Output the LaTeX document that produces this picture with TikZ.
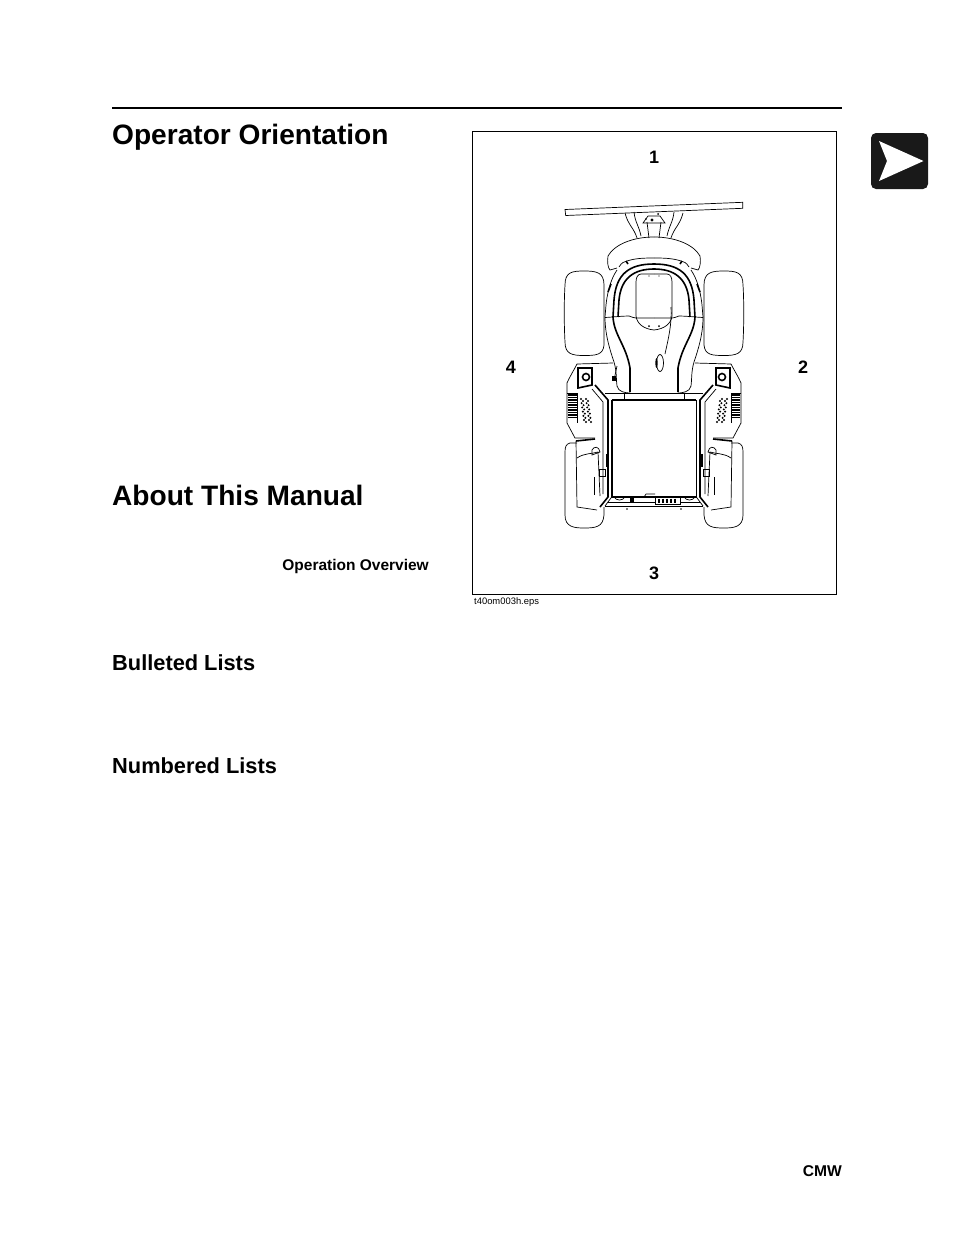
\documentclass[tikz,border=0pt]{standalone}
\usepackage{fontspec}
\setmainfont{Liberation Sans}
\tikzset{
    heading/.style={anchor=base west, inner sep=0pt, font=\fontsize{28.1}{33}\selectfont\bfseries},
    subheading/.style={anchor=base west, inner sep=0pt, font=\fontsize{21.8}{25}\selectfont\bfseries},
    sidelabel/.style={inner sep=0pt, font=\fontsize{18}{22}\selectfont\bfseries},
    thin part/.style={line width=0.7pt},
    thick part/.style={line width=1.6pt},
}
\begin{document}
\begin{tikzpicture}[x=1pt,y=-1pt]
    \useasboundingbox (0,0) rectangle (954,1235);
    \fill[white] (0,0) rectangle (954,1235);

    % page furniture
    \draw[line width=2pt] (112,108) -- (842,108);
    \draw[line width=0.9pt] (472,131) rectangle (836,594);
    \fill[black!90, rounded corners=5pt] (871,133) rectangle (928,189);
    \fill[white] (879,141) -- (923.5,161) -- (879,181) -- (887,161) -- cycle;

    \node[heading] (orientation) at (112,144) {Operator Orientation};
    \node[heading] (manual) at (112,505) {About This Manual};
    \node[anchor=base east, inner sep=0pt, font=\fontsize{15.5}{20}\selectfont\bfseries] (overview) at (429,570) {Operation Overview};
    \node[subheading] (bulleted) at (112,670) {Bulleted Lists};
    \node[subheading] (numbered) at (112,773) {Numbered Lists};
    \node[anchor=base east, inner sep=0pt, font=\fontsize{15.6}{18}\selectfont\bfseries] (cmw) at (842,1176) {CMW};
    \node[anchor=base west, inner sep=0pt, font=\fontsize{9.4}{12}\selectfont] (caption) at (474,604) {t40om003h.eps};

    \node[sidelabel] (front) at (654,157) {1};
    \node[sidelabel] (right) at (803,367) {2};
    \node[sidelabel] (rear) at (654,573) {3};
    \node[sidelabel] (left) at (511,367) {4};

    % blade
    \draw[thin part, fill=white] (565,209.5) -- (742.7,202.3) -- (742.7,208.3) -- (565.7,215.5) -- cycle;

    % one side of the machine, mirrored
    \foreach \side in {1,-1} {
    \begin{scope}[shift={(654,0)}, xscale=\side]
        % tyres
        \draw[thin part] (-70,271) .. controls (-82,271) and (-89,272) .. (-89,285) .. controls (-90,300) and (-90,325) .. (-89,342)
            .. controls (-89,354) and (-82,355.5) .. (-70,355.5) .. controls (-58,355.5) and (-51,355) .. (-50,345) -- (-50,285)
            .. controls (-50,272) and (-58,271) .. (-70,271) -- cycle;
        \draw[thin part] (-77,443) -- (-84,443) .. controls (-88,444) and (-89,447) .. (-89,452) -- (-89,515)
            .. controls (-89,527) and (-80,528) .. (-70,528) .. controls (-58,528) and (-51,527) .. (-50,515) -- (-50,507);
        % blade arm
        \draw[thin part] (-29,213) .. controls (-26,225) and (-20,228) .. (-17,238);
        \draw[thin part] (-20,212) .. controls (-19,222) and (-15,226) .. (-13,236);
        \draw[thin part] (-7,222) -- (-5,238);
        % cowl
        \draw[thin part] (0,237) .. controls (-22,237) and (-40,245) .. (-46,256)
            .. controls (-47,262) and (-46,268) .. (-44,270) -- (-37,268);
        \draw[thin part] (-35,267) .. controls (-32,262) and (-30,262) .. (-27,261) .. controls (-18,258) and (-8,258) .. (0,258);
        \draw[thick part] (-28,261) -- (-26,264);
        % hood arches
        \draw[thick part] (0,264) .. controls (-25,264) and (-38,274) .. (-40,300) -- (-41,317)
            .. controls (-40,335) and (-28,345) .. (-24,368) -- (-24,392);
        \draw[thick part] (0,269) .. controls (-20,269) and (-33,278) .. (-35,300) -- (-36,317);
        \draw[thin part] (-49,317) .. controls (-49,335) and (-44,350) .. (-40,362) .. controls (-37,372) and (-38,380) .. (-37,386) .. controls (-36,392) and (-28,393) .. (-24,393);
        \draw[thin part] (-49,317) -- (-48,305) .. controls (-47,295) and (-44,280) .. (-37,270);
        \draw[thick part] (-46,292) -- (-43,284);
        % hood panel
        \draw[thin part] (0,274) -- (-13,274) .. controls (-16,274) and (-18,277) .. (-18,282) -- (-18,316)
            .. controls (-17,324) and (-10,329) .. (0,330);
        \draw[thin part] (-49,317.5) .. controls (-40,317) and (-32,316) .. (-25,316);
        \draw[thin part] (-25,316) .. controls (-22,317) and (-20,318) .. (-18,318) -- (0,318);
        \fill (-5,326) circle (1);
        \fill (-5,276) circle (0.7);
        % side frame
        \draw[thin part] (-77,364) -- (-41,363);
        \draw[thin part] (-77,364) .. controls (-80,370) and (-85,378) .. (-87,383) -- (-87,423) -- (-79,438) -- (-59,438);
        \draw[thick part] (-59,385) -- (-46,400) -- (-46,497) -- (-54,507);
        \draw[thin part] (-62,389) -- (-51,402) -- (-51,494);
        % rear deck
        \draw[thick part] (-42.3,400) -- (0,400);
        \draw[thick part] (-42.3,400) -- (-42.3,497) -- (0,497);
        \draw[thin part] (-49,393) -- (0,393);
        \draw[thin part] (-49,506) -- (0,506);
        \draw[thin part] (-46,502) -- (0,502);
        \draw[thin part] (-30,393) -- (-30,399);
        \draw[thin part] (-42.3,497) -- (-49,506);
        % latch
        \draw[thick part] (-76,368) -- (-62,368) -- (-62,385) -- (-76,388) -- cycle;
        \draw[thick part] (-68,377) circle (3.5);
        % step grate and dots
        \foreach \bar in {395,397.5,...,417.5} {
            \draw[line width=1.4pt] (-86,\bar) -- (-77,\bar);
        }
        \draw[thin part] (-87,393) -- (-77,393) -- (-77,423);
        \foreach \row in {0,1,...,5} {
            \foreach \col in {0,1} {
                \fill (-73+\col*5+\row*0.6,399+\row*4.2) circle (1.1);
                \fill (-71+\col*5+\row*0.6,401+\row*4.2) circle (1.1);
            }
        }
        % rear fender
        \draw[thick part] (-78,441) -- (-59,439);
        \draw[thin part] (-78,441) -- (-77,507) -- (-57,510);
        \draw[thin part] (-77,458) .. controls (-70,453) and (-62,454) .. (-56,452) -- (-54,496);
        \draw[line width=2pt] (-47.5,454) -- (-47.5,467);
        \draw[thin part] (-62,450) .. controls (-60,446) and (-55,446) .. (-54,452) -- (-62,455) -- cycle;
        \draw[thin part] (-55,469) rectangle (-49,476);
        \draw[thin part] (-60,477) -- (-60,495);
        % hitch marks
        \fill (-27,509) circle (0.8);
    \end{scope}
    }

    % centre parts
    \draw[thin part] (643,223) -- (665,223) -- (660,216) -- (648,216) -- cycle;
    \fill (652,220) circle (1.6);
    \fill (658,214) circle (1);
    \fill (646,219) circle (0.8);
    \draw[thick part] (660,355) -- (660,371);
    \draw[thin part, fill=white] (660,363) ellipse (3.5 and 8.5);
    \fill (656.5,363) ellipse (1.2 and 5);
    \draw[thin part] (671,307) .. controls (672,325) and (668,340) .. (665,354);
    \fill (612,376) rectangle (616,381);
    \draw[thin part] (617,366) -- (614,380);
    % rear engine grille
    \draw[thin part, fill=white] (655,497) rectangle (680,504);
    \foreach \bar in {659,663,...,675} {
        \draw[line width=1.4pt] (\bar,498.5) -- (\bar,502.5);
    }
    \fill (630,498) rectangle (634,502);
    \draw[thin part] (644,497) -- (646,494) -- (655,494);
    \draw[thin part] (614,497) .. controls (616,501) and (623,501) .. (625,497);
    \draw[thin part] (684,497) .. controls (686,501) and (693,501) .. (695,497);
\end{tikzpicture}
\end{document}
